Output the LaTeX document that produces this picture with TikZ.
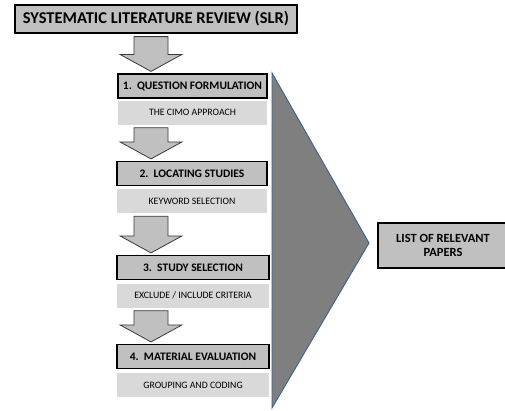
\documentclass[tikz,border=0pt]{standalone}
\usepackage{fontspec}
\setmainfont{Carlito}
\usetikzlibrary{calc}
\definecolor{box-fill}{HTML}{C0C0C0}
\definecolor{sub-fill}{HTML}{D9D9D9}
\definecolor{funnel-fill}{HTML}{7F7F7F}
\definecolor{funnel-border}{HTML}{3F5F94}
\definecolor{arrow-border}{HTML}{3A3A3A}
\tikzset{
  slr-title/.style={
    rectangle, draw=black, fill=box-fill, line width=1.2pt,
    minimum width=282, minimum height=28, inner sep=0pt,
    font=\fontsize{16.5}{18}\selectfont\bfseries
  },
  slr-step/.style={
    rectangle, draw=black, fill=box-fill, line width=1.2pt,
    minimum height=24, inner sep=0pt,
    font=\fontsize{11.5}{13}\selectfont\bfseries
  },
  slr-sub/.style={
    rectangle, fill=sub-fill, minimum height=24, inner sep=0pt,
    font=\fontsize{9.8}{11}\selectfont
  },
  slr-result/.style={
    rectangle, draw=black, fill=box-fill, line width=1.2pt,
    minimum width=130, minimum height=45, inner sep=0pt, align=center,
    font=\fontsize{12.5}{14}\selectfont\bfseries
  },
  slr-arrow/.style={draw=arrow-border, fill=box-fill, line width=0.8pt, line join=miter}
}
% block arrow from one node down to the next
\newcommand{\slrarrow}[2]{%
  \coordinate (arr-top) at (151,0 |- #1.south);
  \coordinate (arr-tip) at (151,0 |- #2.north);
  \draw[slr-arrow]
    ($(arr-top)+(-17,3)$) -- ($(arr-top)+(17,3)$)
    -- ($(arr-tip)+(17,-19)$) -- ($(arr-tip)+(31,-19)$)
    -- ($(arr-tip)+(0,-2)$)
    -- ($(arr-tip)+(-31,-19)$) -- ($(arr-tip)+(-17,-19)$) -- cycle;
}

\begin{document}
\begin{tikzpicture}[x=1pt, y=-1pt]
  \useasboundingbox (0,0) rectangle (505,410);

  \node[slr-title] (slr) at (156,19) {SYSTEMATIC LITERATURE REVIEW (SLR)};

  % Steps and their sub-labels
  \node[slr-step, minimum width=149] (step1) at (192.5,86) {1.\ \ QUESTION FORMULATION};
  \node[slr-sub,  minimum width=149] (sub1)  at (192.5,112.5) {THE CIMO APPROACH};
  \node[slr-step, minimum width=150] (step2) at (192,173.5) {2.\ \ LOCATING STUDIES};
  \node[slr-sub,  minimum width=150] (sub2)  at (192,201) {KEYWORD SELECTION};
  \node[slr-step, minimum width=152] (step3) at (193,267.5) {3.\ \ STUDY SELECTION};
  \node[slr-sub,  minimum width=152] (sub3)  at (193,295.5) {EXCLUDE / INCLUDE CRITERIA};
  \node[slr-step, minimum width=152] (step4) at (193,356.5) {4.\ \ MATERIAL EVALUATION};
  \node[slr-sub,  minimum width=152] (sub4)  at (193,385) {GROUPING AND CODING};

  % Block arrows between the stages
  \slrarrow{slr}{step1}
  \slrarrow{sub1}{step2}
  \slrarrow{sub2}{step3}
  \slrarrow{sub3}{step4}

  % Funnel towards the result
  \draw[draw=funnel-border, fill=funnel-fill, line width=0.9pt]
    (272,73) -- (369,243) -- (272,408) -- cycle;

  \node[slr-result] (result) at (443,245.5) {LIST OF RELEVANT\\PAPERS};
\end{tikzpicture}
\end{document}
